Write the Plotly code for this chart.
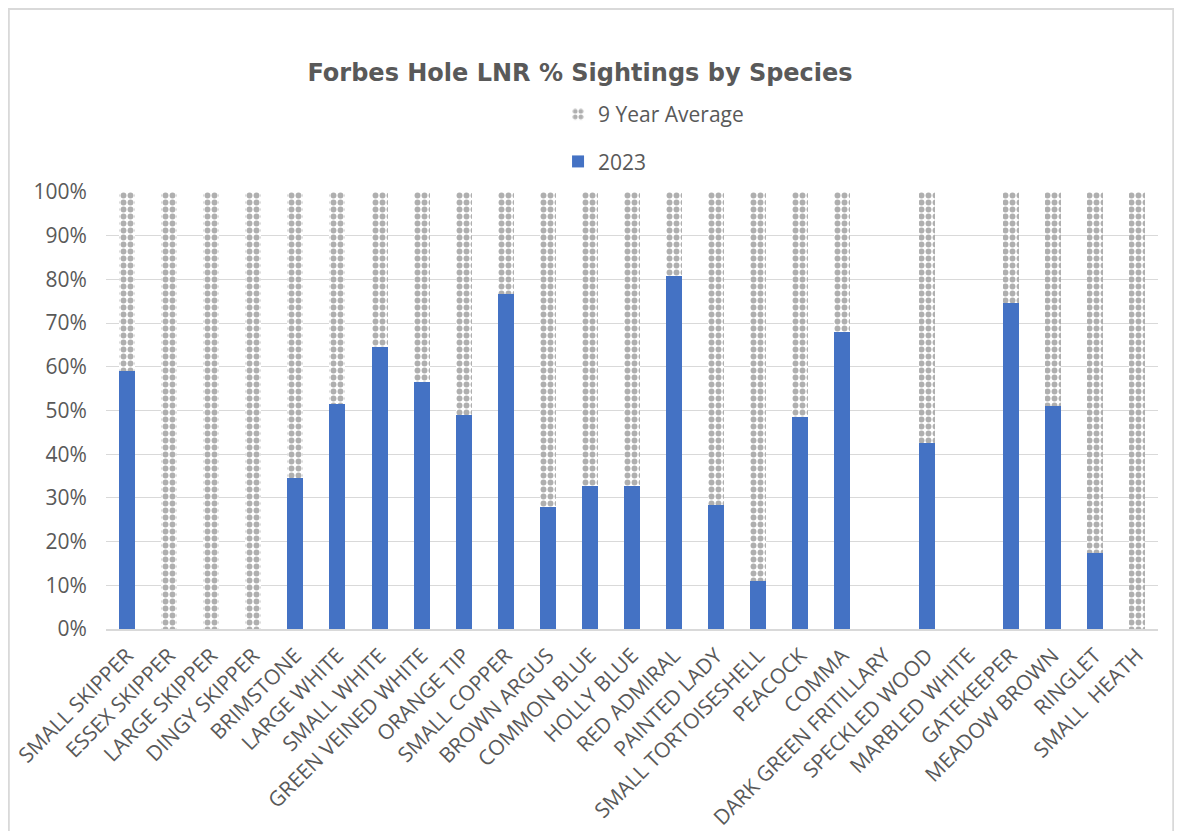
import plotly.graph_objects as go

species = [
    "SMALL SKIPPER", "ESSEX SKIPPER", "LARGE SKIPPER", "DINGY SKIPPER", "BRIMSTONE",
    "LARGE WHITE", "SMALL WHITE", "GREEN VEINED WHITE", "ORANGE TIP", "SMALL COPPER",
    "BROWN ARGUS", "COMMON BLUE", "HOLLY BLUE", "RED ADMIRAL", "PAINTED LADY",
    "SMALL TORTOISESHELL", "PEACOCK", "COMMA", "DARK GREEN FRITILLARY", "SPECKLED WOOD",
    "MARBLED WHITE", "GATEKEEPER", "MEADOW BROWN", "RINGLET", "SMALL  HEATH",
]
pct_2023 = [59, 0, 0, 0, 34.6, 51.6, 64.5, 56.5, 48.9, 76.6,
            28, 32.7, 32.7, 80.7, 28.3, 11, 48.5, 68, 0, 42.5,
            0, 74.6, 51, 17.3, 0]
pct_avg = [41, 100, 100, 100, 65.4, 48.4, 35.5, 43.5, 51.1, 23.4,
           72, 67.3, 67.3, 19.3, 71.7, 89, 51.5, 32, 0, 57.5,
           0, 25.4, 49, 82.7, 100]

grey = "#595959"

fig = go.Figure()
fig.add_trace(go.Bar(
    x=species, y=pct_2023, name="2023",
    marker=dict(color="#4472c4", line=dict(width=0)),
    legendgroup="a", legendrank=2,
))
fig.add_trace(go.Bar(
    x=species, y=pct_avg, name="9 Year Average",
    marker=dict(color="white", line=dict(width=0),
                pattern=dict(shape=".", fgcolor="#5f5f5f", bgcolor="white",
                             size=7, solidity=0.55)),
    legendgroup="b", legendrank=1,
))

# page body adds an 8px margin, so the figure is a bit smaller than the window
fig.update_layout(
    barmode="stack",
    bargap=0.62,
    width=1166, height=823,
    margin=dict(l=98, r=16, t=184, b=202),
    paper_bgcolor="white", plot_bgcolor="white",
    font=dict(family="Open Sans", color=grey, size=16),
    title=dict(text="<b>Forbes Hole LNR % Sightings by Species</b>",
               x=0.4906, xanchor="center", y=0.921, yanchor="middle",
               font=dict(family="DejaVu Sans", size=24, color=grey)),
    legend=dict(x=0.4297, y=1.2243, xanchor="left", yanchor="top",
                traceorder="grouped", tracegroupgap=17,
                font=dict(size=21, color=grey), bgcolor="rgba(0,0,0,0)"),
    showlegend=True,
    hovermode=False,
)
fig.update_yaxes(range=[0, 100], dtick=10, ticksuffix="%", automargin=False,
                 gridcolor="#d9d9d9", gridwidth=1, zeroline=False,
                 tickfont=dict(size=21, color=grey),
                 ticks="outside", ticklen=14, tickcolor="rgba(0,0,0,0)")
fig.update_xaxes(tickangle=-45, showline=True, linecolor="#d9d9d9", linewidth=2,
                 automargin=False, tickfont=dict(size=21, color=grey),
                 ticks="outside", ticklen=4, tickcolor="rgba(0,0,0,0)")

fig.add_shape(type="rect", xref="paper", yref="paper",
              x0=-0.0924, x1=1.0145, y0=-0.6, y1=1.4188,
              line=dict(color="#d9d9d9", width=2), fillcolor="rgba(0,0,0,0)")

fig.write_html("out.html")
